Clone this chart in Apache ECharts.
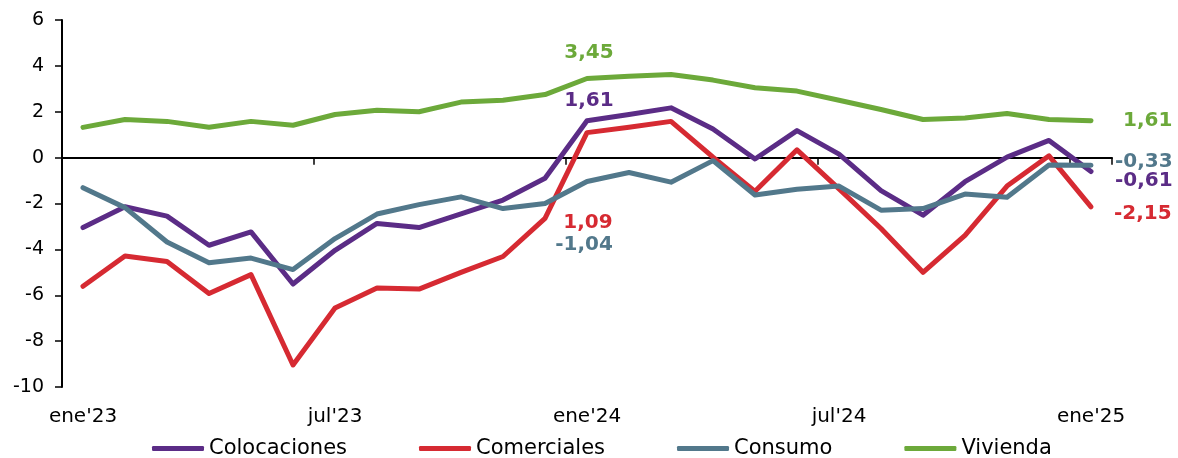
<!DOCTYPE html>
<html>
<head>
<meta charset="utf-8">
<script src="https://cdn.jsdelivr.net/npm/echarts@6/dist/echarts.min.js"></script>
<style>
html,body{margin:0;padding:0;background:#fff;}
#chart{width:1178px;height:458px;}
</style>
</head>
<body>
<div id="chart"></div>
<script>
const categories = ["ene'23","feb'23","mar'23","abr'23","may'23","jun'23","jul'23","ago'23","sep'23","oct'23","nov'23","dic'23",
  "ene'24","feb'24","mar'24","abr'24","may'24","jun'24","jul'24","ago'24","sep'24","oct'24","nov'24","dic'24","ene'25"];

const colocaciones = [-3.05,-2.14,-2.55,-3.82,-3.24,-5.51,-4.04,-2.87,-3.05,-2.45,-1.85,-0.90,1.61,1.88,2.17,1.25,-0.06,1.18,0.15,-1.44,-2.51,-1.05,0.02,0.75,-0.61];
const comerciales  = [-5.61,-4.29,-4.53,-5.92,-5.10,-9.04,-6.56,-5.68,-5.73,-5.00,-4.31,-2.65,1.09,1.32,1.58,0.02,-1.47,0.34,-1.36,-3.09,-5.00,-3.39,-1.24,0.08,-2.15];
const consumo      = [-1.31,-2.18,-3.68,-4.58,-4.38,-4.88,-3.53,-2.46,-2.05,-1.71,-2.22,-2.00,-1.04,-0.65,-1.07,-0.13,-1.63,-1.38,-1.24,-2.29,-2.22,-1.59,-1.73,-0.32,-0.33];
const vivienda     = [1.32,1.66,1.58,1.32,1.58,1.41,1.88,2.07,2.00,2.42,2.50,2.75,3.45,3.55,3.62,3.38,3.05,2.90,2.50,2.10,1.66,1.73,1.92,1.66,1.61];

const seriesNames = ["Colocaciones","Comerciales","Consumo","Vivienda"];
const seriesColors = ["#5B2C86","#D62A32","#52788B","#6CA93A"];

// label placement (style only)
const labelCfg = [
  {12:{position:'top',distance:10,offset:[2,0]}, 24:{position:'right',distance:24,offset:[0,9]}},
  {12:{position:'bottom',distance:80,offset:[1,0]}, 24:{position:'right',distance:23,offset:[0,7]}},
  {12:{position:'bottom',distance:53,offset:[-3,0]}, 24:{position:'right',distance:24,offset:[0,-3]}},
  {12:{position:'top',distance:16,offset:[2,0]}, 24:{position:'right',distance:32,offset:[0,0]}}
];

const fmt = v => v.toFixed(2).replace('.', ',');

function buildData(values, cfg, color){
  return values.map((v,i)=>{
    if(cfg[i]){
      return {value:v, label:Object.assign({show:true, color:color, fontWeight:'bold', fontSize:20,
        fontFamily:'DejaVu Sans', formatter:()=>fmt(v)}, cfg[i])};
    }
    return v;
  });
}

const allValues = [colocaciones, comerciales, consumo, vivienda];

const chart = echarts.init(document.getElementById('chart'), null, {renderer:'canvas'});
chart.setOption({
  animation:false,
  backgroundColor:'#fff',
  textStyle:{fontFamily:'DejaVu Sans'},
  grid:{left:62,right:66,top:20,bottom:71,containLabel:false},
  legend:{
    data:seriesNames,
    left:147, top:433,
    icon:'roundRect',
    itemWidth:52, itemHeight:5, itemGap:72,
    textStyle:{fontSize:21,color:'#000',fontFamily:'DejaVu Sans'}
  },
  xAxis:[
    {type:'category',data:categories,boundaryGap:true,
      axisLine:{show:true,onZero:true,lineStyle:{color:'#000',width:2}},
      axisTick:{show:true,interval:5,length:7,lineStyle:{color:'#000',width:1.5}},
      axisLabel:{show:false},splitLine:{show:false}},
    {type:'category',data:categories,boundaryGap:true,position:'bottom',
      axisLine:{show:false,onZero:false},axisTick:{show:false},
      axisLabel:{show:true,interval:5,margin:20,fontSize:20,color:'#000',fontFamily:'DejaVu Sans'},
      splitLine:{show:false}}
  ],
  yAxis:{type:'value',min:-10,max:6,interval:2,
    axisLine:{show:true,onZero:false,lineStyle:{color:'#000',width:2}},
    axisTick:{show:true,length:7,lineStyle:{color:'#000',width:1.5}},
    axisLabel:{fontSize:19,color:'#000',margin:18,fontFamily:'DejaVu Sans'},
    splitLine:{show:false}},
  series: seriesNames.map((name,k)=>({
    name:name,type:'line',xAxisIndex:0,
    data:buildData(allValues[k], labelCfg[k], seriesColors[k]),
    symbol:'circle',symbolSize:0,showSymbol:true,
    itemStyle:{color:seriesColors[k]},
    lineStyle:{color:seriesColors[k],width:5,cap:'round',join:'round'},
    label:{show:false},
    emphasis:{disabled:true}
  }))
});
</script>
</body>
</html>
